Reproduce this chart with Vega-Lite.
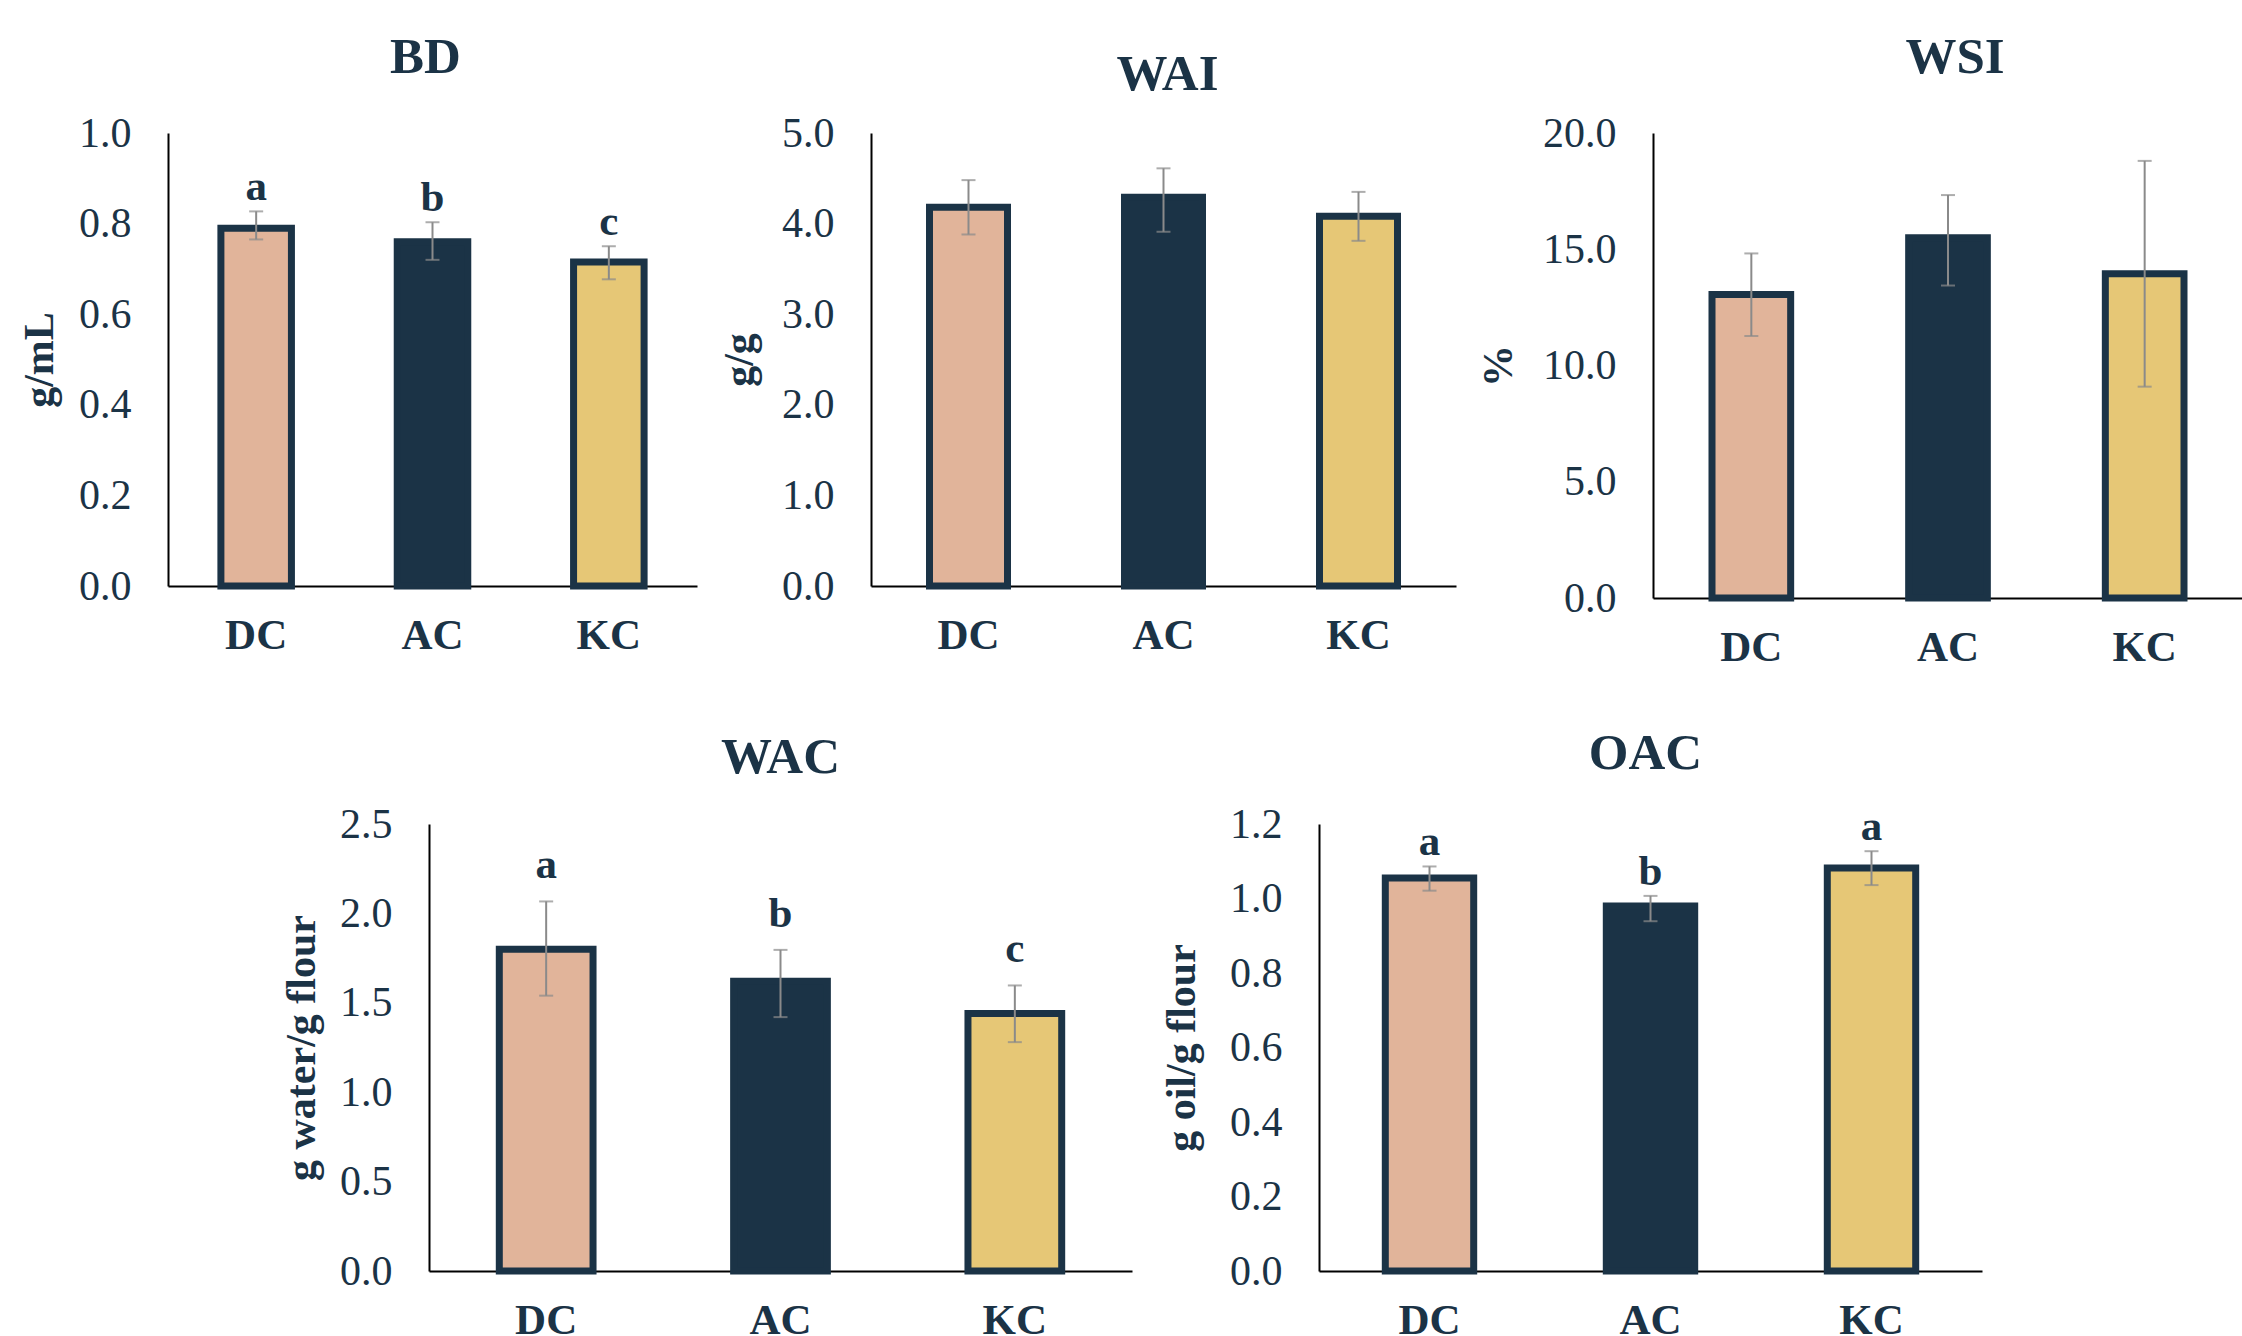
{
  "$schema": "https://vega.github.io/schema/vega-lite/v6.json",
  "background": "white",
  "padding": {"left": 18, "top": 31, "right": 0, "bottom": 0},
  "autosize": {"type": "pad"},
  "config": {
    "font": "Liberation Serif",
    "view": {"stroke": null},
    "axis": {"grid": false, "ticks": false, "domainColor": "#000000", "domainWidth": 2, "labelColor": "#1b3346", "titleColor": "#1b3346", "labelFontSize": 42, "titleFontSize": 42, "titleFontWeight": "bold"},
    "axisX": {"labelFontSize": 43, "labelFontWeight": "bold", "labelPadding": 28, "labelAngle": 0},
    "axisY": {"labelPadding": 37, "titlePadding": 17},
    "title": {"fontSize": 51, "fontWeight": "bold", "color": "#1b3346", "anchor": "middle", "offset": 28.5}
  },
  "datasets": {
    "d": [
      {"panel": "BD", "sample": "DC", "mean": 0.79, "lo": 0.765, "hi": 0.827, "letter": "a"},
      {"panel": "BD", "sample": "AC", "mean": 0.76, "lo": 0.72, "hi": 0.803, "letter": "b"},
      {"panel": "BD", "sample": "KC", "mean": 0.715, "lo": 0.677, "hi": 0.75, "letter": "c"},
      {"panel": "WAI", "sample": "DC", "mean": 4.18, "lo": 3.88, "hi": 4.48, "letter": ""},
      {"panel": "WAI", "sample": "AC", "mean": 4.29, "lo": 3.91, "hi": 4.61, "letter": ""},
      {"panel": "WAI", "sample": "KC", "mean": 4.08, "lo": 3.81, "hi": 4.35, "letter": ""},
      {"panel": "WSI", "sample": "DC", "mean": 13.05, "lo": 11.27, "hi": 14.82, "letter": ""},
      {"panel": "WSI", "sample": "AC", "mean": 15.5, "lo": 13.44, "hi": 17.33, "letter": ""},
      {"panel": "WSI", "sample": "KC", "mean": 13.95, "lo": 9.09, "hi": 18.8, "letter": ""},
      {"panel": "WAC", "sample": "DC", "mean": 1.8, "lo": 1.54, "hi": 2.067, "letter": "a"},
      {"panel": "WAC", "sample": "AC", "mean": 1.62, "lo": 1.42, "hi": 1.796, "letter": "b"},
      {"panel": "WAC", "sample": "KC", "mean": 1.44, "lo": 1.28, "hi": 1.597, "letter": "c"},
      {"panel": "OAC", "sample": "DC", "mean": 1.055, "lo": 1.021, "hi": 1.086, "letter": "a"},
      {"panel": "OAC", "sample": "AC", "mean": 0.98, "lo": 0.939, "hi": 1.007, "letter": "b"},
      {"panel": "OAC", "sample": "KC", "mean": 1.082, "lo": 1.036, "hi": 1.127, "letter": "a"}
    ]
  },
  "spacing": 58,
  "center": true,
  "vconcat": [
    {
      "spacing": 21,
      "hconcat": [
        {
          "width": 529, "height": 453,
          "title": {"text": "BD", "dx": -7},
          "data": {"name": "d"},
          "transform": [{"filter": "datum.panel === 'BD'"}],
          "encoding": {"x": {"field": "sample", "type": "nominal", "sort": ["DC", "AC", "KC"], "scale": {"paddingInner": 0.6, "paddingOuter": 0.3}, "axis": {"title": null}}},
          "layer": [
            {"mark": {"type": "bar", "stroke": "#1b3346", "strokeWidth": 7},
             "encoding": {"y": {"field": "mean", "type": "quantitative", "title": "g/mL", "scale": {"domain": [0, 1], "nice": false}, "axis": {"values": [0, 0.2, 0.4, 0.6, 0.8, 1.0], "format": ".1f"}},
                          "fill": {"field": "sample", "type": "nominal", "scale": {"domain": ["DC", "AC", "KC"], "range": ["#e1b49a", "#1b3346", "#e6c776"]}, "legend": null}}},
            {"mark": {"type": "errorbar", "color": "#8a8a8a", "thickness": 2, "ticks": {"size": 14, "thickness": 2, "color": "#8a8a8a"}},
             "encoding": {"y": {"field": "lo", "type": "quantitative", "title": "g/mL"}, "y2": {"field": "hi"}}},
            {"mark": {"type": "text", "dy": -11, "baseline": "alphabetic", "fontSize": 43, "fontWeight": "bold", "color": "#1b3346"},
             "encoding": {"y": {"field": "hi", "type": "quantitative", "title": "g/mL"}, "text": {"field": "letter"}}}
          ]
        },
        {
          "width": 585, "height": 453,
          "title": {"text": "WAI", "dx": 4, "offset": 11},
          "data": {"name": "d"},
          "transform": [{"filter": "datum.panel === 'WAI'"}],
          "encoding": {"x": {"field": "sample", "type": "nominal", "sort": ["DC", "AC", "KC"], "scale": {"paddingInner": 0.6, "paddingOuter": 0.3}, "axis": {"title": null}}},
          "layer": [
            {"mark": {"type": "bar", "stroke": "#1b3346", "strokeWidth": 7},
             "encoding": {"y": {"field": "mean", "type": "quantitative", "title": "g/g", "scale": {"domain": [0, 5], "nice": false}, "axis": {"values": [0, 1, 2, 3, 4, 5], "format": ".1f", "titlePadding": 20}},
                          "fill": {"field": "sample", "type": "nominal", "scale": {"domain": ["DC", "AC", "KC"], "range": ["#e1b49a", "#1b3346", "#e6c776"]}, "legend": null}}},
            {"mark": {"type": "errorbar", "color": "#8a8a8a", "thickness": 2, "ticks": {"size": 14, "thickness": 2, "color": "#8a8a8a"}},
             "encoding": {"y": {"field": "lo", "type": "quantitative", "title": "g/g"}, "y2": {"field": "hi"}}}
          ]
        },
        {
          "width": 590, "height": 465,
          "title": {"text": "WSI", "dx": 7},
          "data": {"name": "d"},
          "transform": [{"filter": "datum.panel === 'WSI'"}],
          "encoding": {"x": {"field": "sample", "type": "nominal", "sort": ["DC", "AC", "KC"], "scale": {"paddingInner": 0.6, "paddingOuter": 0.3}, "axis": {"title": null}}},
          "layer": [
            {"mark": {"type": "bar", "stroke": "#1b3346", "strokeWidth": 7},
             "encoding": {"y": {"field": "mean", "type": "quantitative", "title": "%", "scale": {"domain": [0, 20], "nice": false}, "axis": {"values": [0, 5, 10, 15, 20], "format": ".1f", "titlePadding": 22}},
                          "fill": {"field": "sample", "type": "nominal", "scale": {"domain": ["DC", "AC", "KC"], "range": ["#e1b49a", "#1b3346", "#e6c776"]}, "legend": null}}},
            {"mark": {"type": "errorbar", "color": "#8a8a8a", "thickness": 2, "ticks": {"size": 14, "thickness": 2, "color": "#8a8a8a"}},
             "encoding": {"y": {"field": "lo", "type": "quantitative", "title": "%"}, "y2": {"field": "hi"}}}
          ]
        }
      ]
    },
    {
      "spacing": 187,
      "bounds": "flush",
      "hconcat": [
        {
          "width": 703, "height": 447,
          "title": {"text": "WAC", "dx": 0, "offset": 19},
          "data": {"name": "d"},
          "transform": [{"filter": "datum.panel === 'WAC'"}],
          "encoding": {"x": {"field": "sample", "type": "nominal", "sort": ["DC", "AC", "KC"], "scale": {"paddingInner": 0.6, "paddingOuter": 0.3}, "axis": {"title": null}}},
          "layer": [
            {"mark": {"type": "bar", "stroke": "#1b3346", "strokeWidth": 7},
             "encoding": {"y": {"field": "mean", "type": "quantitative", "title": "g water/g flour", "scale": {"domain": [0, 2.5], "nice": false}, "axis": {"values": [0, 0.5, 1, 1.5, 2, 2.5], "format": ".1f", "titlePadding": 16}},
                          "fill": {"field": "sample", "type": "nominal", "scale": {"domain": ["DC", "AC", "KC"], "range": ["#e1b49a", "#1b3346", "#e6c776"]}, "legend": null}}},
            {"mark": {"type": "errorbar", "color": "#8a8a8a", "thickness": 2, "ticks": {"size": 14, "thickness": 2, "color": "#8a8a8a"}},
             "encoding": {"y": {"field": "lo", "type": "quantitative", "title": "g water/g flour"}, "y2": {"field": "hi"}}},
            {"mark": {"type": "text", "dy": -23, "baseline": "alphabetic", "fontSize": 43, "fontWeight": "bold", "color": "#1b3346"},
             "encoding": {"y": {"field": "hi", "type": "quantitative", "title": "g water/g flour"}, "text": {"field": "letter"}}}
          ]
        },
        {
          "width": 663, "height": 447,
          "title": {"text": "OAC", "dx": -5, "offset": 23.5},
          "data": {"name": "d"},
          "transform": [{"filter": "datum.panel === 'OAC'"}],
          "encoding": {"x": {"field": "sample", "type": "nominal", "sort": ["DC", "AC", "KC"], "scale": {"paddingInner": 0.6, "paddingOuter": 0.3}, "axis": {"title": null}}},
          "layer": [
            {"mark": {"type": "bar", "stroke": "#1b3346", "strokeWidth": 7},
             "encoding": {"y": {"field": "mean", "type": "quantitative", "title": "g oil/g flour", "scale": {"domain": [0, 1.2], "nice": false}, "axis": {"values": [0, 0.2, 0.4, 0.6, 0.8, 1.0, 1.2], "format": ".1f", "titlePadding": 26}},
                          "fill": {"field": "sample", "type": "nominal", "scale": {"domain": ["DC", "AC", "KC"], "range": ["#e1b49a", "#1b3346", "#e6c776"]}, "legend": null}}},
            {"mark": {"type": "errorbar", "color": "#8a8a8a", "thickness": 2, "ticks": {"size": 14, "thickness": 2, "color": "#8a8a8a"}},
             "encoding": {"y": {"field": "lo", "type": "quantitative", "title": "g oil/g flour"}, "y2": {"field": "hi"}}},
            {"mark": {"type": "text", "dy": -11, "baseline": "alphabetic", "fontSize": 43, "fontWeight": "bold", "color": "#1b3346"},
             "encoding": {"y": {"field": "hi", "type": "quantitative", "title": "g oil/g flour"}, "text": {"field": "letter"}}}
          ]
        }
      ]
    }
  ]
}
